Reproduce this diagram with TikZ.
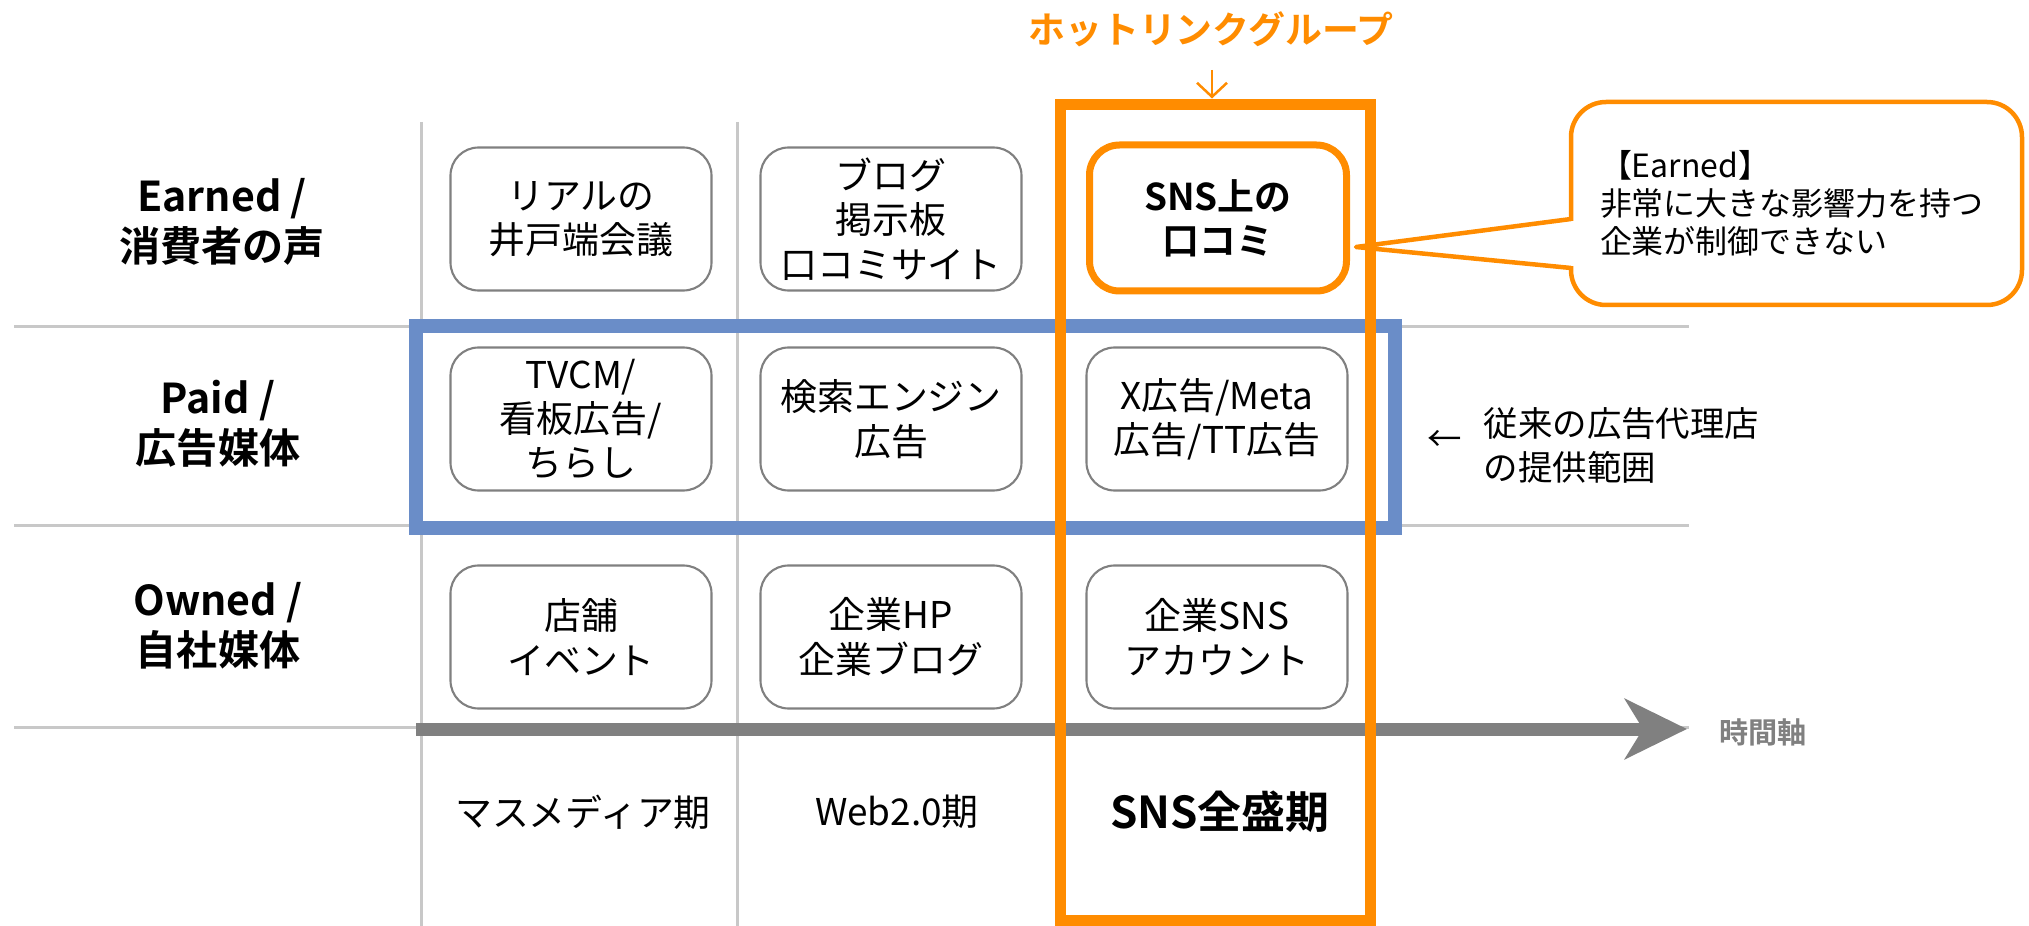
\documentclass[tikz,border=0pt]{standalone}
\usepackage{fontspec}
\setmainfont{Noto Sans CJK JP}[BoldFont={Noto Sans CJK JP Bold}]
\usetikzlibrary{arrows.meta}

\begin{document}
\begin{tikzpicture}[x=0.1mm, y=-0.1mm,
        cell/.style={draw=cellgray, line width=0.6pt, fill=white, rounded corners=2.8mm,
            minimum width=26.1mm, minimum height=14.3mm, align=center, inner sep=0pt,
            font=\fontsize{10.5}{12.6}\selectfont},
        rowlabel/.style={align=center, font=\bfseries\fontsize{11.7}{14.2}\selectfont},
        period/.style={font=\fontsize{10.5}{12.6}\selectfont},
        gridline/.style={gridgray, line width=0.3mm}]

        % Define colors
        \definecolor{gridgray}{RGB}{200,200,200}
        \definecolor{cellgray}{RGB}{128,128,128}
        \definecolor{axisgray}{RGB}{128,128,128}
        \definecolor{hotorange}{RGB}{255,140,0}
        \definecolor{paidblue}{RGB}{106,141,200}

        \useasboundingbox (0,0) rectangle (2029,926);

        % Grid lines
        \foreach \y in {327,526,727}
            \draw[gridline] (14,\y) -- (1689,\y);
        \foreach \x in {421,737}
            \draw[gridline] (\x,122) -- (\x,926);

        % Time axis
        \coordinate (axisstart) at (416,729);
        \coordinate (axisend) at (1687,729);
        \draw[axisgray, line width=1.3mm, -{Stealth[length=6.2mm, width=6mm, inset=1.8mm]}] (axisstart) -- (axisend);
        \node[font=\bfseries\fontsize{8.3}{10}\selectfont, text=axisgray] (timelabel) at (1763,732) {時間軸};

        % Row labels
        \node[rowlabel] (earned) at (222,222) {Earned /\\消費者の声};
        \node[rowlabel] (paid) at (218,424) {Paid /\\広告媒体};
        \node[rowlabel] (owned) at (218,626) {Owned /\\自社媒体};

        % Cells
        \node[cell] (realtalk) at (581,219) {リアルの\\井戸端会議};
        \node[cell] (blogboard) at (891,219) {ブログ\\掲示板\\口コミサイト};
        \node[cell] (tvcm) at (581,419) {TVCM/\\看板広告/\\ちらし};
        \node[cell] (searchad) at (891,419) {検索エンジン\\広告};
        \node[cell] (snsad) at (1217,419) {X広告/Meta\\広告/TT広告};
        \node[cell] (shop) at (581,637) {店舗\\イベント};
        \node[cell] (corphp) at (891,637) {企業HP\\企業ブログ};
        \node[cell] (corpsns) at (1217,637) {企業SNS\\アカウント};

        % Period labels
        \node[period] (massmedia) at (583,812) {マスメディア期};
        \node[period] (webtwo) at (897,812) {Web2.0期};
        \node[period, font=\bfseries\fontsize{12.5}{15}\selectfont] (snsboom) at (1220,812) {SNS全盛期};

        % Paid range and SNS column
        \node[draw=paidblue, line width=1.4mm, minimum width=97.9mm, minimum height=20.2mm, inner sep=0pt] (paidrange) at (905.5,427) {};
        \node[draw=hotorange, line width=1.1mm, minimum width=31mm, minimum height=81.7mm, inner sep=0pt] (snscol) at (1215,512.5) {};
        \node[cell, draw=hotorange, line width=0.7mm, rounded corners=3mm, minimum width=25.7mm, minimum height=14.6mm,
            font=\bfseries\fontsize{10.5}{12.6}\selectfont] (snsword) at (1218,218) {SNS上の\\口コミ};

        % Title
        \node[font=\bfseries\fontsize{10.5}{12.6}\selectfont, text=hotorange] (hotlink) at (1211,29) {ホットリンクグループ};
        \coordinate (hotlinkarrow) at (1212,70);
        \draw[hotorange, line width=0.25mm, -{Straight Barb[length=1.4mm, width=3mm]}] (hotlinkarrow) -- (hotlinkarrow |- snscol.north);

        % Callout
        \node[draw=hotorange, line width=0.45mm, fill=white, rounded corners=3.5mm, minimum width=45.1mm, minimum height=20.3mm,
            text width=39.3mm, inner xsep=2.9mm, align=left, font=\fontsize{9.1}{10.8}\selectfont] (earnednote) at (1796.5,203.5)
            {【Earned】\\非常に大きな影響力を持つ\\企業が制御できない};
        \coordinate (notetip) at (1356,247);
        \fill[white] (1566,221) rectangle (1576,266);
        \draw[hotorange, line width=0.45mm, line join=round] (1571,219) -- (notetip) -- (1571,268);

        % Provider range
        \node[font=\fontsize{9.8}{12.5}\selectfont] (provarrow) at (1445,441) {←};
        \node[anchor=west, align=left, inner sep=0pt, font=\fontsize{9.8}{12.5}\selectfont] (provider) at (1483,445) {従来の広告代理店\\の提供範囲};

    \end{tikzpicture}
\end{document}
